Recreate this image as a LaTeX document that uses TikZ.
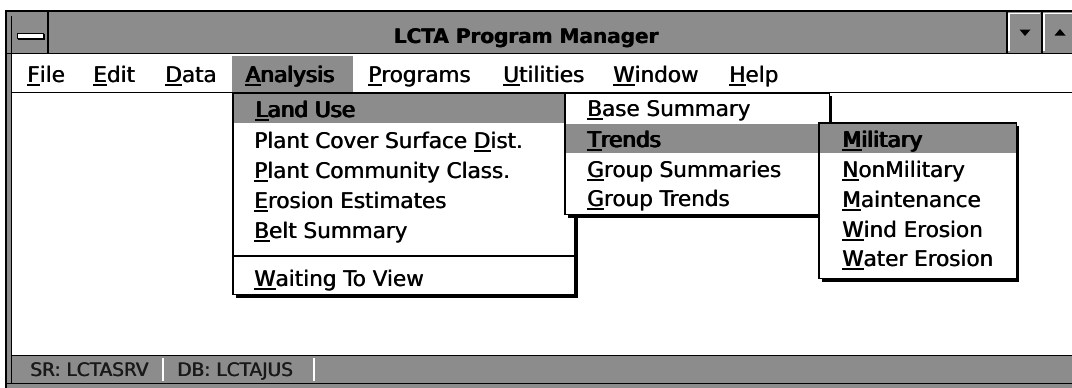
\documentclass[tikz,border=0pt]{standalone}
\usepackage{fontspec}
\newfontfamily\uifont{DejaVu Sans}
\newfontfamily\statfont{DejaVu Sans}
\newfontfamily\ttlfont{DejaVu Sans Bold}
\definecolor{dither}{gray}{0.55}
% underlined access key
\newsavebox\accbox
\newcommand\acc[1]{\sbox\accbox{#1}\rlap{\vrule height -1.8pt depth 3.6pt width\wd\accbox}\usebox\accbox}
% heavier strokes, as in the system font: overprint with a small shift
\newcommand\heavy[1]{\rlap{\kern0.6pt #1}#1}
\newcommand\heavier[1]{\rlap{\kern0.5pt #1}\rlap{\kern1.0pt #1}\rlap{\kern1.5pt #1}#1}
\tikzset{
  menuitem/.style={anchor=base west, inner sep=0pt, font=\uifont\fontsize{21.5}{24}\selectfont},
  statitem/.style={anchor=base west, inner sep=0pt, text=black!90, font=\statfont\fontsize{18.5}{21}\selectfont},
  edge/.style={draw=black, line width=1.5pt},
  popup/.style={fill=white, draw=black, line width=1.5pt},
  shadow/.style={draw=black, line width=2.5pt},
  hilite/.style={fill=dither},
}
\begin{document}
\begin{tikzpicture}[x=1pt,y=-1pt]
\useasboundingbox (0,0) rectangle (1072,388);
% window frame
\fill[white] (0,0) rectangle (1072,388);
\fill[dither] (5,10) rectangle (1072,388);
\draw[edge] (5.75,10) -- (5.75,388);
\draw[edge] (5,10.75) -- (1072,10.75);
\draw[line width=1pt] (11,16) -- (11,383);
% system menu box
\draw[edge] (48,11) -- (48,53);
\filldraw[fill=white, draw=black, line width=1pt] (17,33) rectangle (43,38.5);
\draw[line width=1pt] (18,39.5) -- (44,39.5) -- (44,34);
% title
\node[anchor=base, inner sep=0pt, font=\ttlfont\fontsize{20}{22}\selectfont] (title) at (526,43) {\heavy{LCTA Program Manager}};
% size buttons
\draw[edge] (1007,11) -- (1007,53);
\draw[edge] (1042,11) -- (1042,53);
\draw[white, line width=1.2pt] (1009,51) -- (1009,13.5) -- (1040,13.5);
\draw[white, line width=1.2pt] (1044,51) -- (1044,13.5) -- (1072,13.5);
\fill (1019.5,29.5) -- (1030.5,29.5) -- (1025,36) -- cycle;
\fill (1054.5,35.5) -- (1065.5,35.5) -- (1060,29) -- cycle;
\draw[edge] (5,53.5) -- (1072,53.5);
% menu bar and client area
\fill[white] (11.5,54.25) rectangle (1072,91.5);
\draw[edge] (11,92.25) -- (1072,92.25);
\fill[white] (11.5,93) rectangle (1072,354.5);
% status bar
\draw[edge] (11,355.25) -- (1072,355.25);
\draw[edge] (5,383.25) -- (1072,383.25);
\draw[white, line width=1.2pt] (163,358) -- (163,381);
\draw[white, line width=1.2pt] (314,358) -- (314,381);
\node[statitem] (sr) at (30,376) {\heavy{SR: LCTASRV}};
\node[statitem] (db) at (177,376) {\heavy{DB: LCTAJUS}};
% menu bar items
\fill[hilite] (232,56) rectangle (353,91.5);
\node[menuitem] (mfile) at (27,82) {\heavy{\acc{F}ile}};
\node[menuitem] (medit) at (93,82) {\heavy{\acc{E}dit}};
\node[menuitem] (mdata) at (165,82) {\heavy{\acc{D}ata}};
\node[menuitem] (manalysis) at (245,82) {\heavier{\acc{A}nalysis}};
\node[menuitem] (mprograms) at (368,82) {\heavy{\acc{P}rograms}};
\node[menuitem] (mutilities) at (503,82) {\heavy{\acc{U}tilities}};
\node[menuitem] (mwindow) at (613,82) {\heavy{\acc{W}indow}};
\node[menuitem] (mhelp) at (729,82) {\heavy{\acc{H}elp}};
% Analysis menu
\filldraw[popup] (232.75,93) rectangle (575,294.5);
\draw[shadow] (576.5,96) -- (576.5,296.25) -- (236,296.25);
\fill[hilite] (233.5,94) rectangle (574.25,122.5);
\draw[line width=1.5pt] (232.75,256) -- (575,256);
\node[menuitem] (landuse) at (255,117) {\heavier{\acc{L}and Use}};
\node[menuitem] (plantcover) at (254,148) {\heavy{Plant Cover Surface \acc{D}ist.}};
\node[menuitem] (plantcomm) at (254,178) {\heavy{\acc{P}lant Community Class.}};
\node[menuitem] (erosion) at (254,208) {\heavy{\acc{E}rosion Estimates}};
\node[menuitem] (belt) at (254,238) {\heavy{\acc{B}elt Summary}};
\node[menuitem] (waiting) at (254,286) {\heavy{\acc{W}aiting To View}};
% Land Use submenu
\filldraw[popup] (564.75,93) rectangle (829.5,214.5);
\draw[shadow] (831,96) -- (831,216.25) -- (568,216.25);
\fill[hilite] (565.5,123.5) rectangle (828.75,152.5);
\node[menuitem] (base) at (587,116) {\heavy{\acc{B}ase Summary}};
\node[menuitem] (trends) at (587,147) {\heavier{\acc{T}rends}};
\node[menuitem] (grpsum) at (587,177) {\heavy{\acc{G}roup Summaries}};
\node[menuitem] (grptr) at (587,206) {\heavy{\acc{G}roup Trends}};
% Trends submenu
\filldraw[popup] (818.75,122.75) rectangle (1016.5,278.5);
\draw[shadow] (1018,126) -- (1018,280.25) -- (822,280.25);
\fill[hilite] (819.5,123.5) rectangle (1015.75,152.5);
\node[menuitem] (military) at (842,147) {\heavier{\acc{M}ilitary}};
\node[menuitem] (nonmil) at (842,177) {\heavy{\acc{N}onMilitary}};
\node[menuitem] (maint) at (842,207) {\heavy{\acc{M}aintenance}};
\node[menuitem] (wind) at (842,237) {\heavy{\acc{W}ind Erosion}};
\node[menuitem] (water) at (842,266) {\heavy{\acc{W}ater Erosion}};
\end{tikzpicture}
\end{document}
